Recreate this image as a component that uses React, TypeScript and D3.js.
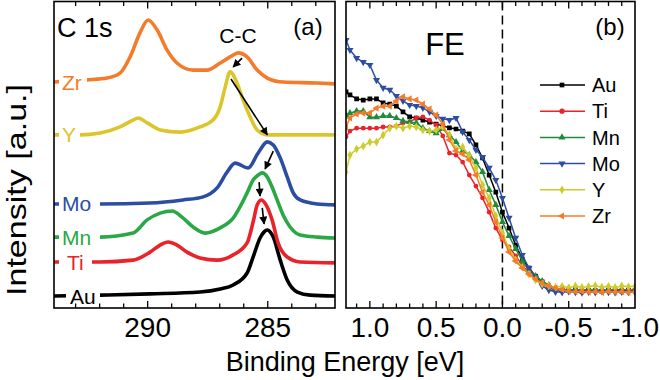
import React from 'react';
import * as d3 from 'd3';

// ---------- Panel (a): C 1s spectra (binding energy eV, intensity a.u.) ----------
const c1sSeriesNames = ['Au', 'Ti', 'Mn', 'Mo', 'Y', 'Zr'];

const auC1sE = [293.9, 291.98, 289.9, 287.82, 286.98, 286.44, 285.86, 285.61, 285.32, 285.15, 285.02, 284.9, 284.77, 284.48, 284.19, 283.77, 283.23, 282.2];
const auC1sI = [0.39, 0.42, 0.46, 0.52, 0.62, 0.75, 1.14, 1.66, 2.28, 2.48, 2.54, 2.48, 2.31, 1.56, 0.91, 0.52, 0.42, 0.39];

const tiC1sE = [293.9, 291.98, 290.61, 289.9, 289.48, 289.15, 288.78, 288.36, 287.82, 287.11, 286.44, 285.86, 285.61, 285.44, 285.27, 285.07, 284.82, 284.57, 284.19, 283.65, 282.2];
const tiC1sI = [1.5, 1.5, 1.56, 1.82, 2.05, 2.15, 2.05, 1.82, 1.63, 1.56, 1.73, 2.12, 2.8, 3.36, 3.52, 3.36, 2.87, 2.12, 1.66, 1.5, 1.47];

const mnC1sE = [293.9, 291.98, 290.61, 290.02, 289.48, 288.98, 288.57, 288.11, 287.61, 286.98, 286.44, 285.86, 285.61, 285.4, 285.23, 285.02, 284.82, 284.61, 284.36, 284.07, 283.65, 282.94, 282.2];
const mnC1sI = [2.31, 2.31, 2.44, 2.87, 3.09, 3.16, 2.96, 2.64, 2.44, 2.61, 2.93, 3.75, 4.17, 4.33, 4.4, 4.27, 3.94, 3.52, 3.03, 2.64, 2.38, 2.31, 2.28];

const moC1sE = [293.9, 291.98, 289.9, 288.53, 287.69, 287.11, 286.69, 286.36, 285.82, 285.4, 285.02, 284.77, 284.48, 284.19, 283.94, 283.65, 282.94, 282.2];
const moC1sI = [3.39, 3.39, 3.42, 3.52, 3.62, 3.91, 4.43, 4.72, 4.56, 5.05, 5.41, 5.31, 4.89, 4.27, 3.75, 3.52, 3.39, 3.36];

const yC1sE = [293.9, 292.82, 291.98, 291.15, 290.61, 290.4, 290.02, 289.48, 288.65, 287.82, 287.28, 286.98, 286.78, 286.57, 286.28, 286.03, 285.73, 285.44, 285.02, 283.65, 282.2];
const yC1sI = [5.64, 5.64, 5.7, 5.9, 6.12, 6.19, 6.03, 5.8, 5.73, 5.9, 6.12, 6.55, 7.17, 7.69, 7.33, 6.78, 6.22, 5.8, 5.64, 5.64, 5.64];

const zrC1sE = [293.9, 292.53, 291.69, 291.15, 290.73, 290.32, 289.98, 289.61, 289.19, 288.78, 288.11, 287.53, 286.98, 286.44, 286.23, 285.86, 285.44, 285.02, 284.36, 282.94, 282.2];
const zrC1sI = [7.36, 7.43, 7.49, 7.65, 8.18, 8.96, 9.38, 9.06, 8.4, 7.98, 7.75, 7.75, 7.98, 8.24, 8.31, 8.18, 7.75, 7.49, 7.36, 7.33, 7.3];

// peak-shift arrows (energy, intensity)
const arrowFromE = [286.07, 286.53, 284.77, 285.36, 285.23];
const arrowFromI = [8.14, 7.46, 5.11, 4.1, 3.26];
const arrowToE = [286.44, 285.02, 285.11, 285.32, 285.15];
const arrowToI = [7.85, 5.64, 4.53, 3.65, 2.74];

const c1sTicks = [283, 284, 285, 286, 287, 288, 289, 290, 291, 292, 293];
const c1sTickLabels = [290, 285];

// ---------- Panel (b): Fermi edge ----------
const feSeriesNames = ['Au', 'Ti', 'Mn', 'Mo', 'Y', 'Zr'];
const feEnergies = [1.18, 1.15, 1.1, 1.05, 1.0, 0.95, 0.9, 0.85, 0.8, 0.75, 0.7, 0.65, 0.6, 0.55, 0.5, 0.45, 0.4, 0.35, 0.3, 0.25, 0.2, 0.15, 0.1, 0.05, 0.0, -0.05, -0.1, -0.15, -0.2, -0.25, -0.3, -0.35, -0.4, -0.45, -0.5, -0.55, -0.6, -0.65, -0.7, -0.75, -0.8, -0.85, -0.9, -0.95, -1.0];
const feAu = [0.686, 0.676, 0.662, 0.658, 0.662, 0.662, 0.648, 0.644, 0.637, 0.617, 0.6, 0.596, 0.589, 0.582, 0.575, 0.569, 0.562, 0.558, 0.551, 0.541, 0.503, 0.458, 0.399, 0.34, 0.271, 0.216, 0.157, 0.109, 0.078, 0.05, 0.03, 0.012, 0.004, 0.002, 0.0, 0.003, -0.002, 0.001, 0.0, -0.003, 0.002, 0.0, -0.002, 0.001, 0.0];
const feTi = [0.531, 0.551, 0.561, 0.561, 0.561, 0.561, 0.565, 0.565, 0.568, 0.579, 0.582, 0.596, 0.6, 0.589, 0.572, 0.534, 0.475, 0.468, 0.444, 0.399, 0.361, 0.32, 0.271, 0.216, 0.175, 0.151, 0.12, 0.088, 0.061, 0.04, 0.023, 0.012, 0.006, 0.003, 0.004, 0.001, 0.003, 0.002, 0.0, 0.003, 0.001, 0.002, 0.004, 0.001, 0.002];
const feMn = [0.607, 0.613, 0.62, 0.62, 0.599, 0.599, 0.603, 0.603, 0.596, 0.586, 0.582, 0.579, 0.561, 0.551, 0.544, 0.558, 0.537, 0.513, 0.482, 0.468, 0.444, 0.41, 0.348, 0.296, 0.237, 0.189, 0.144, 0.102, 0.071, 0.05, 0.033, 0.019, 0.009, 0.004, 0.002, 0.003, 0.0, 0.002, 0.001, -0.001, 0.002, 0.0, 0.001, -0.001, 0.001];
const feMo = [0.865, 0.831, 0.803, 0.789, 0.779, 0.727, 0.7, 0.693, 0.672, 0.655, 0.641, 0.637, 0.631, 0.617, 0.603, 0.593, 0.589, 0.596, 0.548, 0.52, 0.486, 0.461, 0.424, 0.382, 0.32, 0.251, 0.182, 0.123, 0.078, 0.044, 0.016, 0.002, -0.004, -0.006, -0.003, -0.005, -0.007, -0.004, -0.006, -0.003, -0.005, -0.006, -0.004, -0.005, -0.006];
const feY = [0.41, 0.468, 0.489, 0.499, 0.513, 0.513, 0.537, 0.561, 0.568, 0.561, 0.568, 0.565, 0.555, 0.551, 0.555, 0.565, 0.537, 0.489, 0.496, 0.465, 0.424, 0.365, 0.32, 0.258, 0.199, 0.144, 0.106, 0.081, 0.057, 0.037, 0.023, 0.016, 0.012, 0.015, 0.01, 0.016, 0.011, 0.014, 0.017, 0.012, 0.015, 0.011, 0.016, 0.013, 0.015];
const feZr = [0.565, 0.596, 0.61, 0.613, 0.613, 0.63, 0.637, 0.637, 0.655, 0.669, 0.662, 0.658, 0.644, 0.627, 0.606, 0.575, 0.52, 0.482, 0.472, 0.451, 0.399, 0.34, 0.296, 0.237, 0.182, 0.133, 0.102, 0.078, 0.057, 0.04, 0.026, 0.016, 0.009, 0.003, -0.002, -0.004, -0.003, -0.005, -0.004, -0.006, -0.003, -0.005, -0.004, -0.006, -0.004];

const feTicks = [1.1, 1.0, 0.9, 0.8, 0.7, 0.6, 0.5, 0.4, 0.3, 0.2, 0.1, 0.0, -0.1, -0.2, -0.3, -0.4, -0.5, -0.6, -0.7, -0.8, -0.9];
const feTickLabels = [1.0, 0.5, 0.0, -0.5, -1.0];

// ---------- styles ----------
const FONT = 'Liberation Sans, Arial, Helvetica, sans-serif';
const colorsA: Record<string, string> = { Au: '#000000', Ti: '#e8232a', Mn: '#2aa845', Mo: '#2b4ea2', Y: '#dcc52c', Zr: '#f47b29' };
const colorsB: Record<string, string> = { Au: '#000000', Ti: '#e8232a', Mn: '#1f8c3c', Mo: '#2b4ea2', Y: '#cccc2a', Zr: '#f47b29' };
const symbolsB: Record<string, [d3.SymbolType, number]> = {
  Au: [d3.symbolSquare, 0],
  Ti: [d3.symbolCircle, 0],
  Mn: [d3.symbolTriangle, 0],
  Mo: [d3.symbolTriangle, 180],
  Y: [d3.symbolDiamond, 0],
  Zr: [d3.symbolTriangle, -90],
};
// label placement in panel (a): [text x, box start x, box end x]
const labelLayoutA: Record<string, [number, number, number]> = {
  Au: [70, 66, 100], Ti: [67, 59, 92], Mn: [62, 59, 100], Mo: [62, 59, 100], Y: [62, 59, 80], Zr: [62, 59, 87],
};

const A = { left: 54, right: 335, top: 1.5, bottom: 308 };
const B = { left: 346, right: 635, top: 1.5, bottom: 308 };

export default function App() {
  const xA = d3.scaleLinear().domain([293.9, 282.2]).range([A.left, A.right]);
  const yA = d3.scaleLinear().domain([0, 10]).range([308, 1]);
  const xB = d3.scaleLinear().domain([1.18, -1.0]).range([B.left, B.right]);
  const yB = d3.scaleLinear().domain([-0.06, 1.0]).range([308, 1]);

  const c1sData: Record<string, [number[], number[]]> = {
    Au: [auC1sE, auC1sI], Ti: [tiC1sE, tiC1sI], Mn: [mnC1sE, mnC1sI],
    Mo: [moC1sE, moC1sI], Y: [yC1sE, yC1sI], Zr: [zrC1sE, zrC1sI],
  };
  const feData: Record<string, number[]> = { Au: feAu, Ti: feTi, Mn: feMn, Mo: feMo, Y: feY, Zr: feZr };

  const lineA = d3.line<[number, number]>().x(d => xA(d[0])).y(d => yA(d[1])).curve(d3.curveMonotoneX);
  const lineB = d3.line<[number, number]>().x(d => xB(d[0])).y(d => yB(d[1]));

  const fmt = (v: number) => v.toFixed(1);

  return (
    <svg width={660} height={380} style={{ position: 'absolute', left: 0, top: 0, background: '#fff' }} fontFamily={FONT}>
      <defs>
        <clipPath id="clipA"><rect x={A.left} y={A.top} width={A.right - A.left} height={A.bottom - A.top} /></clipPath>
        <clipPath id="clipB"><rect x={B.left} y={B.top} width={B.right - B.left} height={B.bottom - B.top} /></clipPath>
        <marker id="arrowHead" viewBox="0 0 10 10" refX={9} refY={5} markerUnits="userSpaceOnUse" markerWidth={9} markerHeight={8} orient="auto">
          <path d="M0,0 L10,5 L0,10 z" fill="#000" />
        </marker>
      </defs>

      {/* ---------- Panel (a) ---------- */}
      <g clipPath="url(#clipA)">
        {c1sSeriesNames.map(name => {
          const [es, is] = c1sData[name];
          const pts = es.map((e, i) => [e, is[i]] as [number, number]);
          return <path key={name} d={lineA(pts) || ''} fill="none" stroke={colorsA[name]} strokeWidth={3.6} strokeLinejoin="round" />;
        })}
      </g>
      {c1sSeriesNames.map(name => {
        const [es, is] = c1sData[name];
        const [tx, bx0, bx1] = labelLayoutA[name];
        const yc = yA(is[0]);
        return (
          <g key={'lab' + name}>
            <rect x={bx0} y={yc - 12} width={bx1 - bx0} height={24} fill="#fff" />
            <text x={tx} y={yc} dy="0.36em" fontSize={21} fill={colorsA[name]}>{name}</text>
          </g>
        );
      })}
      {arrowFromE.map((e, i) => (
        <line key={'arr' + i} x1={xA(e)} y1={yA(arrowFromI[i])} x2={xA(arrowToE[i])} y2={yA(arrowToI[i])}
          stroke="#000" strokeWidth={1.6} markerEnd="url(#arrowHead)" />
      ))}
      {c1sTicks.map(t => {
        const len = t % 5 === 0 ? 7 : 4.5;
        return (
          <g key={'ta' + t}>
            <line x1={xA(t)} x2={xA(t)} y1={A.bottom} y2={A.bottom - len} stroke="#000" strokeWidth={1.3} />
            <line x1={xA(t)} x2={xA(t)} y1={A.top} y2={A.top + len} stroke="#000" strokeWidth={1.3} />
          </g>
        );
      })}
      <rect x={A.left} y={A.top} width={A.right - A.left} height={A.bottom - A.top} fill="none" stroke="#000" strokeWidth={1.6} />
      {c1sTickLabels.map(t => (
        <text key={'tla' + t} x={xA(t)} y={337} fontSize={28} textAnchor="middle">{t}</text>
      ))}
      <text x={57} y={37} fontSize={27}>C 1s</text>
      <text x={308} y={35} fontSize={24} textAnchor="middle">(a)</text>
      <text x={238} y={43} fontSize={21} textAnchor="middle">C-C</text>

      {/* ---------- Panel (b) ---------- */}
      <line x1={xB(0)} x2={xB(0)} y1={B.top} y2={B.bottom} stroke="#000" strokeWidth={1.5} strokeDasharray="9,5" />
      <g clipPath="url(#clipB)">
        {feSeriesNames.map(name => {
          const vals = feData[name];
          const pts = feEnergies.map((e, i) => [e, vals[i]] as [number, number]);
          const [sym, rot] = symbolsB[name];
          const sp = d3.symbol().type(sym).size(name === 'Ti' ? 18 : 22)();
          return (
            <g key={name}>
              <path d={lineB(pts) || ''} fill="none" stroke={colorsB[name]} strokeWidth={1.5} />
              {pts.map((p, i) => (
                <path key={i} d={sp || ''} transform={`translate(${xB(p[0])},${yB(p[1])}) rotate(${rot})`} fill={colorsB[name]} />
              ))}
            </g>
          );
        })}
      </g>
      {feTicks.map(t => {
        const major = Math.abs(Math.round(t * 10)) % 5 === 0;
        const len = major ? 7 : 4.5;
        return (
          <g key={'tb' + t}>
            <line x1={xB(t)} x2={xB(t)} y1={B.bottom} y2={B.bottom - len} stroke="#000" strokeWidth={1.3} />
            <line x1={xB(t)} x2={xB(t)} y1={B.top} y2={B.top + len} stroke="#000" strokeWidth={1.3} />
          </g>
        );
      })}
      <rect x={B.left} y={B.top} width={B.right - B.left} height={B.bottom - B.top} fill="none" stroke="#000" strokeWidth={1.6} />
      {feTickLabels.map(t => (
        <text key={'tlb' + t} x={xB(t)} y={337} fontSize={28} textAnchor="middle">{fmt(t)}</text>
      ))}
      <text x={445} y={55} fontSize={31} textAnchor="middle">FE</text>
      <text x={610} y={35} fontSize={24} textAnchor="middle">(b)</text>
      {feSeriesNames.map((name, i) => {
        const yy = 85 + i * 26.2;
        const [sym, rot] = symbolsB[name];
        const sp = d3.symbol().type(sym).size(22)();
        return (
          <g key={'leg' + name}>
            <line x1={540} x2={585} y1={yy} y2={yy} stroke={colorsB[name]} strokeWidth={1.5} />
            <path d={sp || ''} transform={`translate(562,${yy}) rotate(${rot})`} fill={colorsB[name]} />
            <text x={592} y={yy} dy="0.36em" fontSize={20}>{name}</text>
          </g>
        );
      })}

      {/* ---------- shared titles ---------- */}
      <text x={345} y={371} fontSize={27} textAnchor="middle">Binding Energy [eV]</text>
      <text transform="translate(26,190) rotate(-90)" fontSize={28} textAnchor="middle"
        textLength={212} lengthAdjust="spacingAndGlyphs">Intensity [a.u.]</text>
    </svg>
  );
}
